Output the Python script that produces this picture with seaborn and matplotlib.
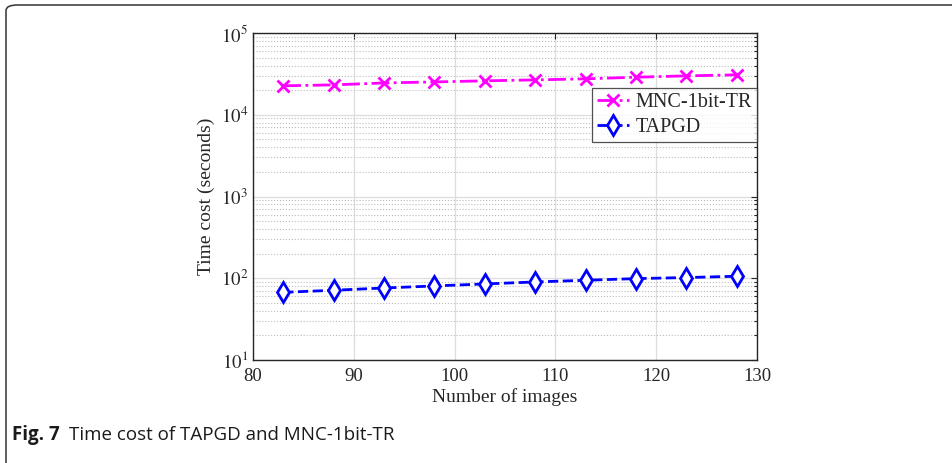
import numpy as np
import pandas as pd
import matplotlib
matplotlib.use("Agg")
import matplotlib.pyplot as plt
import seaborn as sns
from matplotlib.patches import FancyBboxPatch
from matplotlib.ticker import LogLocator, NullFormatter

n_images = [83, 88, 93, 98, 103, 108, 113, 118, 123, 128]
mnc_time = [22600, 23200, 24500, 25200, 26000, 26700, 27500, 28800, 29900, 30800]
tapgd_time = [67.3, 71.3, 76.0, 80.5, 85.2, 90.1, 94.5, 99.0, 102.0, 105.8]
series_names = ["MNC-1bit-TR", "TAPGD"]
x_ticks = [80, 90, 100, 110, 120, 130]

sns.set_style("white")
plt.rcParams["font.family"] = ["Liberation Serif", "DejaVu Serif"]
plt.rcParams["mathtext.fontset"] = "stix"

fig = plt.figure(figsize=(9.53, 4.63), dpi=100)
W, H = 953, 463
ax = fig.add_axes([253 / W, 1 - 360 / H, (757 - 253) / W, (360 - 33) / H])

# border frame
frame = FancyBboxPatch((6 / W, -0.1), 1.2, 1.1 - 5 / H,
                       boxstyle="round,pad=0,rounding_size=0.012",
                       transform=fig.transFigure, fill=False,
                       edgecolor="#333333", linewidth=1.1, clip_on=False)
fig.patches.append(frame)

df1 = pd.DataFrame({"x": n_images, "y": mnc_time})
df2 = pd.DataFrame({"x": n_images, "y": tapgd_time})
sns.lineplot(data=df1, x="x", y="y", ax=ax, color="#ff00ff", linestyle="-.",
             linewidth=2, marker="x", markersize=8, markeredgewidth=2,
             markeredgecolor="#ff00ff", markerfacecolor="#ff00ff",
             label=series_names[0])
sns.lineplot(data=df2, x="x", y="y", ax=ax, color="#0000ff", linestyle="--",
             linewidth=2, marker="d", markersize=10, markeredgewidth=2,
             markerfacecolor="white", markeredgecolor="#0000ff",
             label=series_names[1])

ax.set_yscale("log")
ax.set_xlim(80, 130)
ax.set_ylim(10, 1e5)
ax.set_xticks(x_ticks)
ax.set_xticklabels([str(t) for t in x_ticks])
ax.yaxis.set_minor_locator(LogLocator(base=10, subs=np.arange(2, 10), numticks=20))
ax.yaxis.set_minor_formatter(NullFormatter())
ax.set_yticks([10, 100, 1000, 10000, 100000])
ax.set_yticklabels([r"$10^{1}$", r"$10^{2}$", r"$10^{3}$", r"$10^{4}$", r"$10^{5}$"])

ax.grid(True, which="major", color="#dddddd", linewidth=0.9, linestyle="-")
ax.grid(True, which="minor", axis="y", color="#bbbbbb", linewidth=0.8, linestyle=":")
ax.set_axisbelow(True)

for s in ax.spines.values():
    s.set_visible(True)
    s.set_color("#262626")
    s.set_linewidth(1.0)
ax.tick_params(which="both", direction="in", top=True, right=True, length=4,
               labelsize=13.5, colors="#262626", width=0.8)
ax.tick_params(which="minor", length=2)
ax.tick_params(axis="x", pad=6)

ax.set_xlabel("Number of images", fontsize=14, color="#262626", labelpad=2)
ax.set_ylabel("Time cost (seconds)", fontsize=14, color="#262626", labelpad=4)

leg = ax.legend(loc="upper right", bbox_to_anchor=(1.0, 1 - 55 / 327),
                fontsize=14.5, frameon=True, fancybox=False, edgecolor="#262626",
                borderpad=0.25, handlelength=1.6, handletextpad=0.3,
                labelspacing=0.3, borderaxespad=0.0)
leg.get_frame().set_linewidth(0.9)

fig.text(12 / W, 1 - 440 / H, "Fig. 7", fontsize=13.5, fontweight="bold",
         family=["Open Sans", "DejaVu Sans"], color="#1a1a1a", va="baseline")
fig.text(69 / W, 1 - 440 / H, "Time cost of TAPGD and MNC-1bit-TR", fontsize=13.5,
         family=["Open Sans", "DejaVu Sans"], color="#1a1a1a", va="baseline")

fig.savefig("out.png", dpi=100)
